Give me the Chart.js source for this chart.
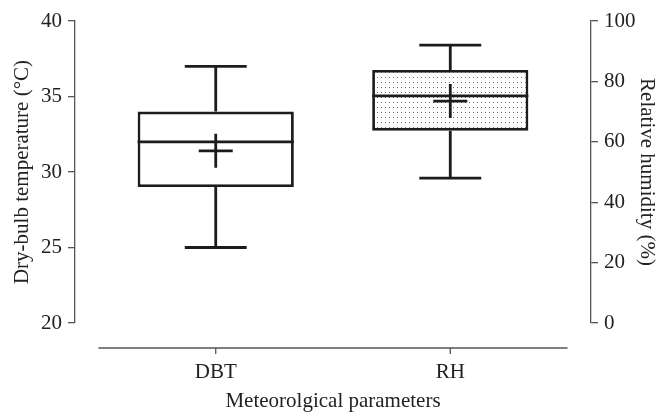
<!DOCTYPE html>
<html>
<head>
<meta charset="utf-8">
<script src="https://cdn.jsdelivr.net/npm/chart.js@4.4.1/dist/chart.umd.min.js"></script>
<style>
html, body { margin: 0; padding: 0; background: #fff; }
</style>
</head>
<body>
<canvas id="chart" width="659" height="412"></canvas>
<script>
// box plot values
var categories = ['DBT', 'RH'];
var xPositions = [1, 2];
var whiskerLow = [25, 48];
var q1 = [29, 63.7];
var median = [32, 75.2];
var q3 = [34, 83.8];
var whiskerHigh = [37, 92];
var means = [31.4, 73.5];
var axisIds = ['y', 'y1'];

var boxHalf = 0.333;   // half box width, x units
var capHalf = 0.132;   // half whisker cap width, x units
var ink = '#1c1c1c';
var axisGrey = '#555';

Chart.defaults.font.family = 'Liberation Serif';
Chart.defaults.color = '#222';

function dotPattern() {
	var c = document.createElement('canvas');
	c.width = 4;
	c.height = 5;
	var g = c.getContext('2d');
	g.fillStyle = '#fff';
	g.fillRect(0, 0, 4, 5);
	g.fillStyle = '#6a6a6a';
	g.fillRect(1, 2, 1, 1);
	return g.createPattern(c, 'repeat');
}

function whiskerPoints(i) {
	var x = xPositions[i];
	var gap = {x: x, y: null};
	return [
		{x: x - capHalf, y: whiskerLow[i]}, {x: x + capHalf, y: whiskerLow[i]}, gap,
		{x: x, y: whiskerLow[i]}, {x: x, y: q1[i]}, gap,
		{x: x, y: q3[i]}, {x: x, y: whiskerHigh[i]}, gap,
		{x: x - capHalf, y: whiskerHigh[i]}, {x: x + capHalf, y: whiskerHigh[i]}, gap,
		{x: x - boxHalf, y: median[i]}, {x: x + boxHalf, y: median[i]}
	];
}

var fills = ['#fff', dotPattern()];
var datasets = [];

for (var i = 0; i < categories.length; i++) {
	datasets.push({
		type: 'bar',
		label: categories[i] + ' box',
		data: [{x: xPositions[i], y: [q1[i], q3[i]]}],
		yAxisID: axisIds[i],
		stack: 'box',
		backgroundColor: fills[i],
		borderColor: ink,
		borderWidth: 2.8,
		borderSkipped: false,
		categoryPercentage: 1,
		barPercentage: boxHalf * 2,
		order: 3
	});
	datasets.push({
		type: 'line',
		label: categories[i] + ' whiskers',
		data: whiskerPoints(i),
		yAxisID: axisIds[i],
		borderColor: ink,
		borderWidth: 2.8,
		borderCapStyle: 'butt',
		spanGaps: false,
		pointRadius: 0,
		fill: false,
		order: 2
	});
	datasets.push({
		type: 'line',
		label: categories[i] + ' mean',
		data: [{x: xPositions[i], y: means[i]}],
		yAxisID: axisIds[i],
		showLine: false,
		pointStyle: 'cross',
		pointRadius: 17,
		pointBorderColor: ink,
		pointBorderWidth: 2.8,
		order: 1
	});
}

// offset x axis line, drawn below the plot like the original
var xAxisLine = {
	id: 'xAxisLine',
	afterDraw: function(chart) {
		var sx = chart.scales.x;
		var ctx = chart.ctx;
		var y0 = chart.chartArea.bottom + 25;
		ctx.save();
		ctx.strokeStyle = axisGrey;
		ctx.lineWidth = 1.3;
		ctx.beginPath();
		ctx.moveTo(sx.getPixelForValue(xPositions[0] - 0.5), y0);
		ctx.lineTo(sx.getPixelForValue(xPositions[xPositions.length - 1] + 0.5), y0);
		xPositions.forEach(function(v) {
			var px = sx.getPixelForValue(v);
			ctx.moveTo(px, y0);
			ctx.lineTo(px, y0 + 6);
		});
		ctx.stroke();
		ctx.restore();
	}
};

var config = {
	type: 'bar',
	data: {datasets: datasets},
	plugins: [xAxisLine],
	options: {
		responsive: false,
		animation: false,
		events: [],
		layout: {padding: {top: 21, left: 8, right: 0, bottom: 0}},
		plugins: {legend: {display: false}, tooltip: {enabled: false}},
		scales: {
			x: {
				type: 'linear',
				min: 0.4,
				max: 2.6,
				offset: false,
				grid: {display: false, drawTicks: false, offset: false},
				border: {display: false},
				afterBuildTicks: function(scale) {
					scale.ticks = xPositions.map(function(v) { return {value: v}; });
				},
				afterFit: function(scale) { scale.height = 89; },
				ticks: {
					padding: 37,
					maxRotation: 0,
					autoSkip: false,
					font: {size: 21},
					callback: function(value, index) { return categories[index]; }
				},
				title: {display: true, text: 'Meteorolgical parameters', font: {size: 21}, padding: {top: 0, bottom: -2}}
			},
			y: {
				position: 'left',
				min: 20,
				max: 40,
				afterFit: function(scale) { scale.width = 67; },
				ticks: {stepSize: 5, padding: 6, font: {size: 21}},
				grid: {drawOnChartArea: false, tickLength: 7, color: axisGrey, lineWidth: 1.3},
				border: {color: axisGrey, width: 1.3},
				title: {display: true, text: 'Dry-bulb temperature (°C)', font: {size: 21}, padding: {top: 2, bottom: 0}}
			},
			y1: {
				position: 'right',
				min: 0,
				max: 100,
				afterFit: function(scale) { scale.width = 68; },
				ticks: {stepSize: 20, padding: 6, font: {size: 21}},
				grid: {drawOnChartArea: false, tickLength: 7, color: axisGrey, lineWidth: 1.3},
				border: {color: axisGrey, width: 1.3},
				title: {display: true, text: 'Relative humidity (%)', font: {size: 21}, padding: {top: 0, bottom: 0}}
			}
		}
	}
};

var myChart = new Chart('chart', config);
</script>
</body>
</html>
